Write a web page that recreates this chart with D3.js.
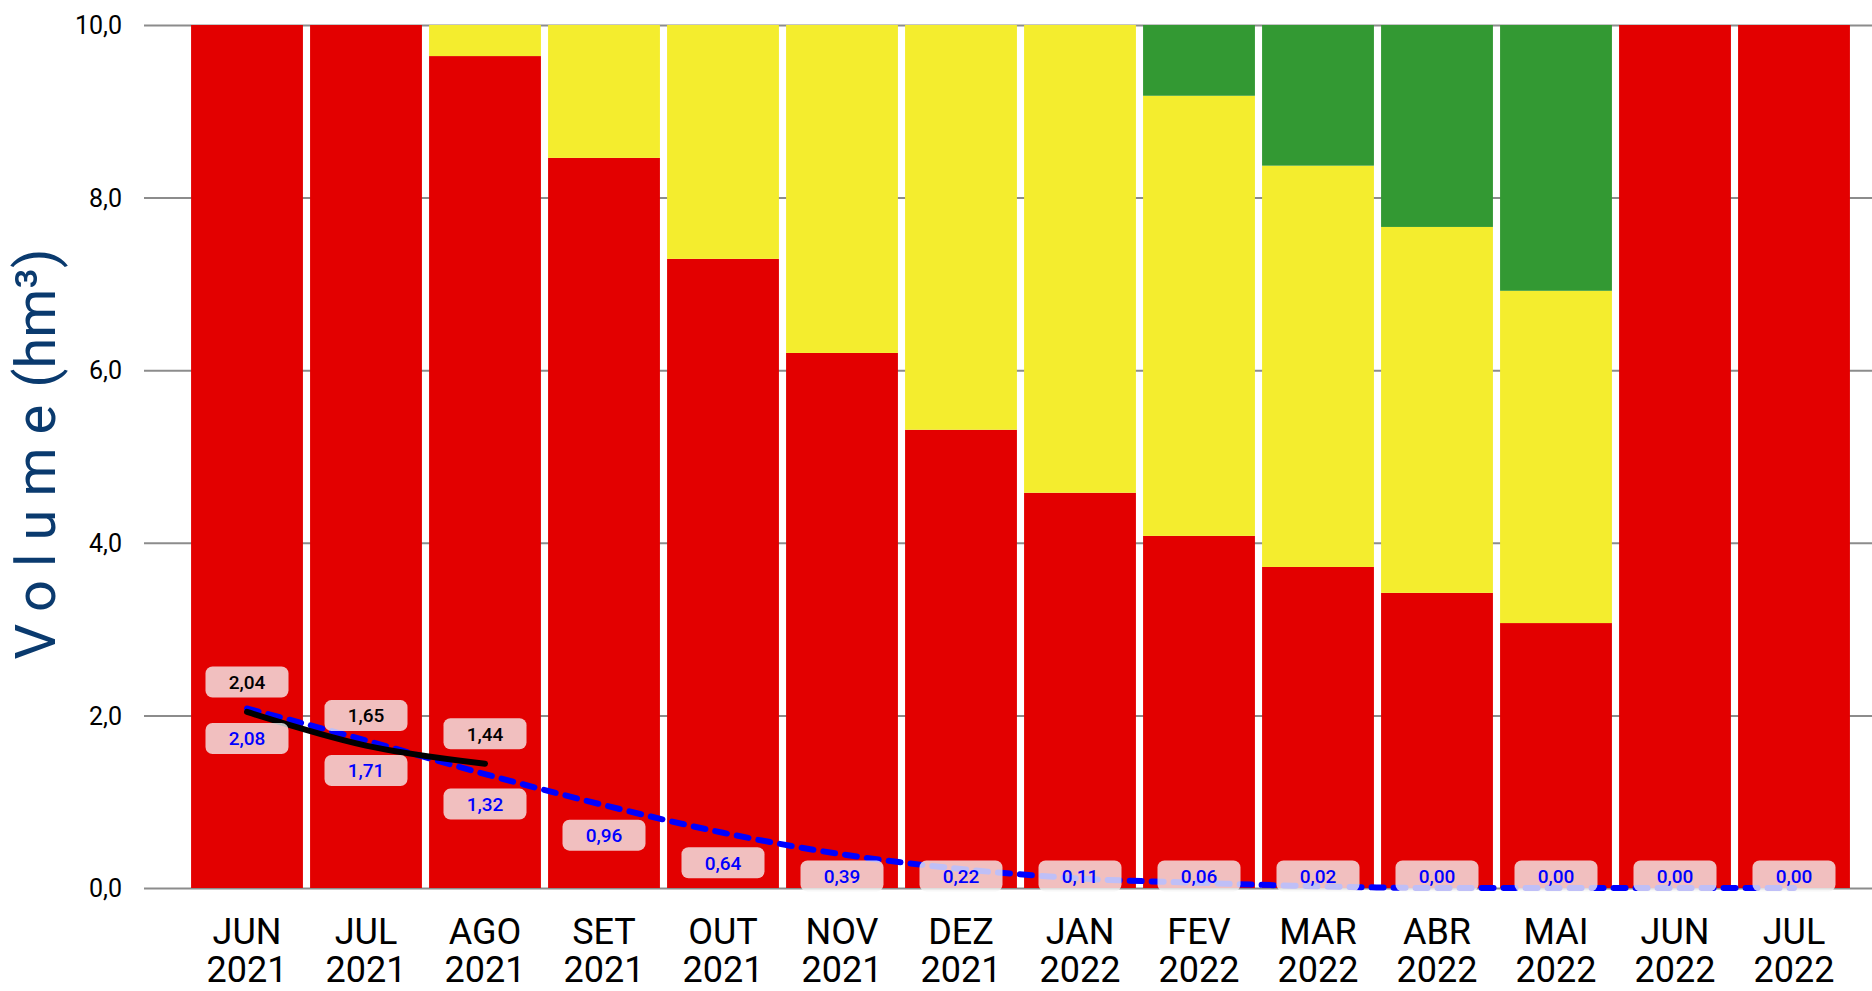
<!DOCTYPE html>
<html>
<head>
<meta charset="utf-8">
<script src="https://cdn.jsdelivr.net/npm/d3@7"></script>
<style>
  body { margin: 0; background: #fff; }
  svg { display: block; }
  text { font-family: "Roboto", "DejaVu Sans Condensed", sans-serif; }
</style>
</head>
<body>
<svg id="chart" width="1872" height="991"></svg>
<script>
// month labels (two lines each)
const months = ["JUN 2021", "JUL 2021", "AGO 2021", "SET 2021", "OUT 2021", "NOV 2021", "DEZ 2021",
                "JAN 2022", "FEV 2022", "MAR 2022", "ABR 2022", "MAI 2022", "JUN 2022", "JUL 2022"];

// stacked bands (hm³)
const redVals    = [10, 10, 9.64, 8.46, 7.29, 6.20, 5.31, 4.58, 4.08, 3.72, 3.42, 3.07, 10, 10];
const yellowVals = [0, 0, 0.36, 1.54, 2.71, 3.80, 4.69, 5.42, 5.10, 4.65, 4.24, 3.85, 0, 0];
const greenVals  = [0, 0, 0, 0, 0, 0, 0, 0, 0.82, 1.63, 2.34, 3.08, 0, 0];

// observed volume and forecast
const observed = [2.04, 1.65, 1.44];
const forecast = [2.08, 1.71, 1.32, 0.96, 0.64, 0.39, 0.22, 0.11, 0.06, 0.02, 0.00, 0.00, 0.00, 0.00];

const yTicks = [0, 2, 4, 6, 8, 10];

const svg = d3.select('#chart');

const x = d3.scaleBand()
  .domain(months)
  .range([187.5, 1853.5])
  .paddingInner(0.06)
  .paddingOuter(0.03);

const y = d3.scaleLinear()
  .domain([0, 10])
  .range([888, 25]);

const fmt = v => d3.format('.1f')(v).replace('.', ',');
const fmt2 = v => d3.format('.2f')(v).replace('.', ',');

// gridlines + y tick labels
const yAxis = d3.axisLeft(y)
  .tickValues(yTicks)
  .tickSize(-(1872 - 144))
  .tickPadding(22)
  .tickFormat(fmt);

svg.append('g')
  .attr('transform', 'translate(144,0)')
  .call(yAxis)
  .call(g => g.select('.domain').remove())
  .call(g => g.selectAll('.tick line').attr('stroke', '#8c8c8c').attr('stroke-width', 2))
  .call(g => g.selectAll('.tick text')
    .attr('fill', '#000')
    .style('font-size', '25px')
    .attr('dy', '0.35em'));

// stacked bars
const rows = months.map((m, i) => ({ month: m, red: redVals[i], yellow: yellowVals[i], green: greenVals[i] }));
const stack = d3.stack().keys(['red', 'yellow', 'green'])(rows);
const colors = { red: '#e30000', yellow: '#f4ed2e', green: '#339933' };

svg.append('g')
  .selectAll('g')
  .data(stack)
  .join('g')
  .attr('fill', d => colors[d.key])
  .selectAll('rect')
  .data(d => d.filter(p => p[1] - p[0] > 0))
  .join('rect')
  .attr('x', d => x(d.data.month))
  .attr('width', x.bandwidth())
  .attr('y', d => y(d[1]))
  .attr('height', d => y(d[0]) - y(d[1]));

// x labels
const xLab = svg.append('g')
  .selectAll('text')
  .data(months)
  .join('text')
  .attr('text-anchor', 'middle')
  .attr('fill', '#000')
  .style('font-size', '36px');

xLab.append('tspan')
  .attr('x', d => x(d) + x.bandwidth() / 2)
  .attr('y', 944)
  .text(d => d.split(' ')[0]);
xLab.append('tspan')
  .attr('x', d => x(d) + x.bandwidth() / 2)
  .attr('y', 982)
  .text(d => d.split(' ')[1]);

// lines
const cx = i => x(months[i]) + x.bandwidth() / 2;
const line = d3.line()
  .x((d, i) => cx(i))
  .y(d => y(d))
  .curve(d3.curveMonotoneX);

svg.append('path')
  .datum(forecast)
  .attr('fill', 'none')
  .attr('stroke', '#0000ff')
  .attr('stroke-width', 6)
  .attr('stroke-linecap', 'round')
  .attr('stroke-dasharray', '12,10')
  .attr('d', line);

svg.append('path')
  .datum(observed)
  .attr('fill', 'none')
  .attr('stroke', '#000')
  .attr('stroke-width', 6)
  .attr('stroke-linecap', 'round')
  .attr('d', line);

// value labels
const boxW = 83, boxH = 31;
function addLabels(vals, color, offset) {
  const g = svg.append('g')
    .selectAll('g')
    .data(vals)
    .join('g')
    .attr('transform', (d, i) => {
      const cy = Math.min(y(d) + offset, 876);
      return `translate(${cx(i)},${cy})`;
    });
  g.append('rect')
    .attr('x', -boxW / 2)
    .attr('y', -boxH / 2)
    .attr('width', boxW)
    .attr('height', boxH)
    .attr('rx', 7)
    .attr('fill', 'rgba(245,245,245,0.78)');
  g.append('text')
    .attr('text-anchor', 'middle')
    .attr('dy', '0.36em')
    .attr('fill', color)
    .style('font-size', '19px')
    .style('font-weight', 500)
    .text(fmt2);
}
addLabels(forecast, '#0000ff', 30);
addLabels(observed, '#000', -30);

// y axis title
const title = svg.append('text')
  .attr('transform', 'translate(55,454) rotate(-90)')
  .attr('text-anchor', 'middle')
  .attr('fill', '#0a3a6e')
  .style('font-size', '56px');
title.append('tspan').attr('letter-spacing', '13px').text('Volume');
title.append('tspan').attr('dx', 4).text('(hm³)');
</script>
</body>
</html>
